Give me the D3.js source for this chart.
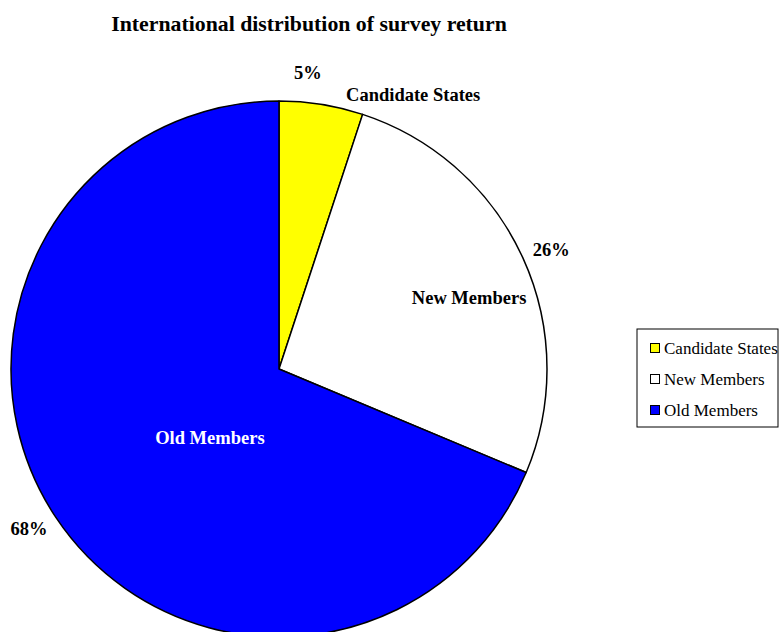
<!DOCTYPE html>
<html>
<head>
<meta charset="utf-8">
<script src="https://cdn.jsdelivr.net/npm/d3@7/dist/d3.min.js"></script>
<style>
  html, body { margin: 0; padding: 0; background: #fff; }
  svg { display: block; font-family: "Liberation Serif", "Times New Roman", serif; }
</style>
</head>
<body>
<svg id="chart" width="779" height="632"></svg>
<script>
// Survey returns by country group (percent of responses)
const categories = ["Candidate States", "New Members", "Old Members"];
const shares = [5, 26, 68];
const colors = ["#ffff00", "#ffffff", "#0000ff"];
const pctLabels = ["5%", "26%", "68%"];
const title = "International distribution of survey return";

const svg = d3.select("#chart");
const cx = 279, cy = 369, R = 268;

svg.append("text")
  .attr("x", 309).attr("y", 31)
  .attr("text-anchor", "middle")
  .attr("font-weight", "bold")
  .attr("font-size", 21.8)
  .text(title);

const data = categories.map((c, i) => ({ cat: c, value: shares[i], color: colors[i], pct: pctLabels[i] }));

const pie = d3.pie().value(d => d.value).sort(null);
const arcs = pie(data);
const arc = d3.arc().innerRadius(0).outerRadius(R);

const g = svg.append("g").attr("transform", `translate(${cx},${cy})`);

g.selectAll("path.slice")
  .data(arcs)
  .join("path")
  .attr("class", "slice")
  .attr("d", arc)
  .attr("fill", d => d.data.color)
  .attr("stroke", "#000")
  .attr("stroke-width", 1.5)
  .attr("stroke-linejoin", "round");

// polar helper: angle measured clockwise from 12 o'clock
const polar = (a, r) => [r * Math.sin(a), -r * Math.cos(a)];
const mid = d => (d.startAngle + d.endAngle) / 2;
const deg = Math.PI / 180;

// percentage labels sit just outside the rim; the small slice's label is eased toward 12 o'clock
const pctShift = [-3.5 * deg, 1 * deg, 1 * deg];
g.selectAll("text.pct")
  .data(arcs)
  .join("text")
  .attr("class", "pct")
  .attr("transform", (d, i) => `translate(${polar(mid(d) + pctShift[i], 297)})`)
  .attr("text-anchor", "middle")
  .attr("dominant-baseline", "central")
  .attr("font-weight", "bold")
  .attr("font-size", 18.5)
  .text(d => d.data.pct);

// category names: outside for the thin slice, inside for the others
const catPlace = [
  { shift: 17 * deg, r: 305 },
  { shift: 4 * deg, r: 203 },
  { shift: -11.5 * deg, r: 98 }
];
g.selectAll("text.cat")
  .data(arcs)
  .join("text")
  .attr("class", "cat")
  .attr("transform", (d, i) => `translate(${polar(mid(d) + catPlace[i].shift, catPlace[i].r)})`)
  .attr("text-anchor", "middle")
  .attr("dominant-baseline", "central")
  .attr("font-weight", "bold")
  .attr("font-size", 18.5)
  .attr("fill", d => d.data.color === "#0000ff" ? "#fff" : "#000")
  .text(d => d.data.cat);

// legend
const lg = svg.append("g").attr("transform", "translate(637,329)");
lg.append("rect")
  .attr("x", 0).attr("y", 0)
  .attr("width", 141).attr("height", 98)
  .attr("fill", "#fff").attr("stroke", "#000").attr("stroke-width", 1);

const rowY = d3.scalePoint().domain(categories).range([19, 81]);
const rows = lg.selectAll("g.row")
  .data(data)
  .join("g")
  .attr("class", "row")
  .attr("transform", d => `translate(0,${rowY(d.cat)})`);
rows.append("rect")
  .attr("x", 13.5).attr("y", -4.5)
  .attr("width", 9).attr("height", 9)
  .attr("fill", d => d.color)
  .attr("stroke", "#000").attr("stroke-width", 1);
rows.append("text")
  .attr("x", 27).attr("y", 0)
  .attr("dominant-baseline", "central")
  .attr("font-size", 17)
  .text(d => d.cat);
</script>
</body>
</html>
